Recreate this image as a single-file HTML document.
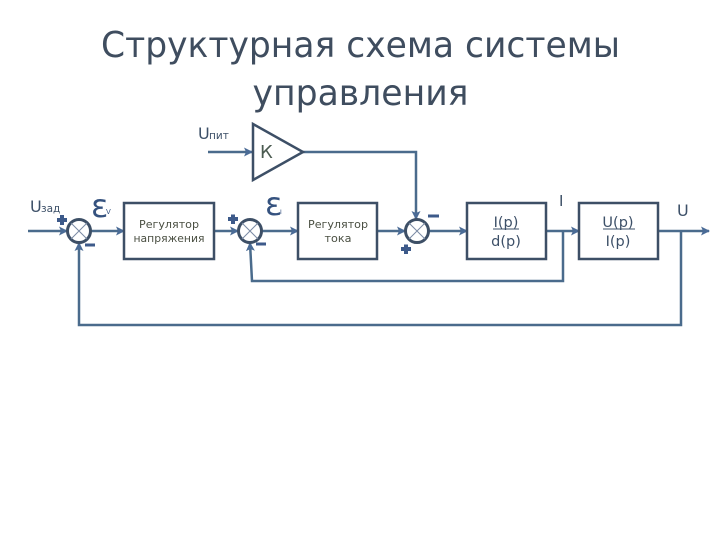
<!DOCTYPE html>
<html><head><meta charset="utf-8"><style>html,body{margin:0;padding:0;background:#fff}svg{display:block}text{font-family:"DejaVu Sans","Liberation Sans",sans-serif}</style></head><body>
<svg width="720" height="540" viewBox="0 0 720 540" xmlns="http://www.w3.org/2000/svg">
<defs><marker id="a" markerWidth="9" markerHeight="9" refX="8" refY="4.500" orient="auto" markerUnits="userSpaceOnUse"><path d="M0 0L9 4.500L0 9L2 4.500Z" fill="#4a6b96"/></marker></defs>
<rect width="720" height="540" fill="#fff"/>
<text x="360.500" y="57" text-anchor="middle" font-size="36" fill="#3f4d5f" textLength="519" lengthAdjust="spacingAndGlyphs">Структурная схема системы</text>
<text x="360.500" y="105" text-anchor="middle" font-size="36" fill="#3f4d5f" textLength="216" lengthAdjust="spacingAndGlyphs">управления</text>
<g fill="none" stroke="#4a6b8c" stroke-width="2.500">
<path d="M28 231H67" marker-end="url(#a)"/><path d="M91 231H124" marker-end="url(#a)"/><path d="M214 231H238" marker-end="url(#a)"/><path d="M262 231H298" marker-end="url(#a)"/><path d="M377 231H405" marker-end="url(#a)"/><path d="M429 231H467" marker-end="url(#a)"/><path d="M546 231H579" marker-end="url(#a)"/><path d="M658 231H709" marker-end="url(#a)"/>
<path d="M208 152H252" marker-end="url(#a)"/>
<path d="M303 152H416V219" marker-end="url(#a)"/>
<path d="M563 231V281H252L250 243" marker-end="url(#a)"/>
<path d="M681 231V325H79V243" marker-end="url(#a)"/>
</g>
<g fill="#fff" stroke="#3d4f66" stroke-width="2.500">
<rect x="124" y="203" width="90" height="56"/><rect x="298" y="203" width="79" height="56"/><rect x="467" y="203" width="79" height="56"/><rect x="579" y="203" width="79" height="56"/>
<path d="M253 124L303 152L253 180Z"/>
</g>
<g fill="#fff" stroke="#3d4f66" stroke-width="3">
<circle cx="79" cy="231" r="11.500"/><circle cx="250" cy="231" r="11.500"/><circle cx="417" cy="231" r="11.500"/>
</g>
<g stroke="#7a8aa4" stroke-width="1"><path d="M71 223L87 239M87 223L71 239M242 223L258 239M258 223L242 239M409 223L425 239M425 223L409 239"/></g>
<g stroke="#3d5a8a" stroke-width="4"><path d="M57 220H67M62 215V225M228 219H238M233 214.500V224M401 249H411M406 244.500V254"/><path d="M85 245H95M256 244H266M428 216H439" stroke-width="3"/></g>
<g fill="#3d5068" font-size="16"><text x="198" y="139">U</text><text x="30" y="212">U</text><text x="677" y="216">U</text><text x="559" y="206" font-size="15">I</text><text x="260" y="158" font-size="18" fill="#4a5a50">К</text></g>
<g fill="#3d5068" font-size="10.500"><text x="209" y="139">пит</text><text x="41" y="212">зад</text></g>
<text x="91" y="217" font-size="32" fill="#35527f" font-family="Liberation Serif">ε</text><text x="106" y="214" font-size="7" fill="#35527f">V</text>
<text x="265" y="215" font-size="32" fill="#35527f" font-family="Liberation Serif">ε</text><text x="280" y="214" font-size="6" fill="#35527f">I</text>
<g text-anchor="middle" font-size="10.500" fill="#4a4f42"><text x="169" y="228" textLength="60" lengthAdjust="spacingAndGlyphs">Регулятор</text><text x="169" y="242" textLength="71" lengthAdjust="spacingAndGlyphs">напряжения</text><text x="338" y="228" textLength="60" lengthAdjust="spacingAndGlyphs">Регулятор</text><text x="338" y="242" textLength="27" lengthAdjust="spacingAndGlyphs">тока</text></g>
<g text-anchor="middle" font-size="14.500" fill="#3d5068"><text x="506" y="227">I(p)</text><text x="506" y="246">d(p)</text><text x="618" y="227">U(p)</text><text x="618" y="246">I(p)</text></g>
<path d="M493 229H519M603 229H635" stroke="#3d5068" stroke-width="1"/>
</svg></body></html>
